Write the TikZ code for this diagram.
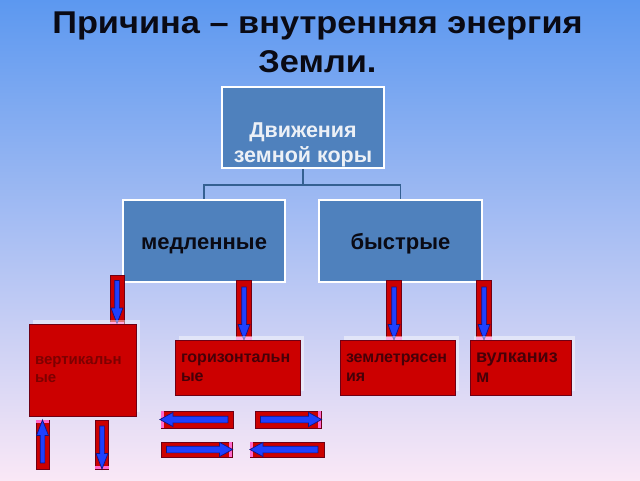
\documentclass[tikz,border=0pt]{standalone}
\usepackage{fontspec}
\setmainfont{Liberation Sans}
\usepackage{tikz}
\usetikzlibrary{positioning, shapes.arrows, shadows}

\definecolor{bgtop}{RGB}{92,152,240}
\definecolor{bgmid}{RGB}{172,204,242}
\definecolor{bgbot}{RGB}{250,232,246}
\definecolor{boxblue}{RGB}{79,129,189}
\definecolor{treeline}{RGB}{52,96,146}
\definecolor{boxred}{RGB}{204,0,0}
\definecolor{redline}{RGB}{110,0,20}
\definecolor{arrblue}{RGB}{30,64,255}
\definecolor{arrline}{RGB}{20,20,130}
\definecolor{tippink}{RGB}{255,105,205}
\definecolor{redtext}{RGB}{70,0,8}
\definecolor{titletext}{RGB}{10,10,20}
\definecolor{lighttext}{RGB}{236,240,246}

\tikzset{
    heading/.style={anchor=base, font=\bfseries\fontsize{31.5}{40}\selectfont, text=titletext},
    bluebox/.style={rectangle, draw=white, line width=2pt, fill=boxblue, inner sep=0pt, align=center,
        font=\bfseries\fontsize{22}{26}\selectfont, text=titletext, text height=16pt, text depth=0pt},
    redbox/.style={rectangle, draw=redline, line width=0.8pt, fill=boxred, inner xsep=6pt, align=left,
        font=\bfseries\fontsize{16}{19}\selectfont, text=redtext,
        drop shadow={shadow xshift=4pt, shadow yshift=4pt, fill=white, opacity=0.45}},
    redbar/.style={rectangle, draw=redline, line width=0.8pt, fill=boxred, inner sep=0pt},
    bluearr/.style={single arrow, draw=arrline, line width=0.7pt, fill=arrblue, inner xsep=0pt,
        inner ysep=2pt, single arrow head extend=3.6pt, single arrow tip angle=42},
    sidearr/.style={bluearr, inner ysep=3pt, single arrow head extend=3.8pt, single arrow tip angle=57},
    pinktip/.style={fill=tippink},
    tree/.style={draw=treeline, line width=1.6pt},
}

\begin{document}
\begin{tikzpicture}[x=1pt, y=-1pt]
    % background
    \fill[top color=bgtop, middle color=bgmid, bottom color=bgbot] (0,0) rectangle (640,480);
    \useasboundingbox (0,0) rectangle (640,480);

    % title
    \node[heading] (title1) at (317.5,33) {\scalebox{1.09}[1]{Причина – внутренняя энергия}};
    \node[heading] (title2) at (317.5,72) {\scalebox{1.09}[1]{Земли.}};

    % tree
    \node[bluebox, minimum width=162pt, minimum height=81pt] (dvizh) at (303,127.5) {};
    \node[align=center, font=\bfseries\fontsize{21.5}{25}\selectfont, text=lighttext] (dvizhtext) at ([yshift=-17pt]dvizh.center) {Движения\\земной коры};
    \node[bluebox, minimum width=162pt, minimum height=82pt] (medl) at (204,241) {медленные};
    \node[bluebox, minimum width=163pt, minimum height=82pt] (bystr) at (400.5,241) {быстрые};

    \draw[tree] (dvizh.south) -- ++(0,16) coordinate (fork);
    \draw[tree] (fork) -| (medl.north);
    \draw[tree] (fork) -| (bystr.north);

    % down bars
    \node[redbar, minimum width=14pt, minimum height=50pt] (bar1) at (117,300) {};
    \node[redbar, minimum width=15pt, minimum height=60pt] (bar2) at (244,310) {};
    \node[redbar, minimum width=15pt, minimum height=60pt] (bar3) at (394,310) {};
    \node[redbar, minimum width=15pt, minimum height=60pt] (bar4) at (484,310) {};
    \fill[pinktip] (bar1.south west) rectangle ([yshift=3pt]bar1.south east);
    \fill[pinktip] (bar2.south west) rectangle ([yshift=3.5pt]bar2.south east);
    \fill[pinktip] (bar3.south west) rectangle ([yshift=3.5pt]bar3.south east);
    \fill[pinktip] (bar4.south west) rectangle ([yshift=3.5pt]bar4.south east);
    \node[bluearr, minimum height=43pt, rotate=-90] (arr1) at ([yshift=1pt]bar1.center) {};
    \node[bluearr, minimum height=53pt, rotate=-90] (arr2) at ([yshift=-0.5pt]bar2.center) {};
    \node[bluearr, minimum height=53pt, rotate=-90] (arr3) at ([yshift=-0.5pt]bar3.center) {};
    \node[bluearr, minimum height=53pt, rotate=-90] (arr4) at ([yshift=-0.5pt]bar4.center) {};

    % red boxes
    \node[redbox, minimum height=92pt, text width=95pt, font=\bfseries\fontsize{15}{18}\selectfont, text={rgb,255:red,125;green,0;blue,0}] (vert) at (82.5,370) {вертикальн\\ые};
    \node[redbox, minimum height=55pt, text width=113pt] (goriz) at (237.5,367.5) {горизонтальн\\ые};
    \node[redbox, minimum height=55pt, text width=103pt] (zeml) at (397.5,367.5) {землетрясен\\ия};
    \node[redbox, minimum height=55pt, text width=89pt, font=\bfseries\fontsize{18}{20}\selectfont] (vulk) at (520.5,367.5) {вулканиз\\м};

    % small vertical bars
    \node[redbar, minimum width=13pt, minimum height=49pt] (up) at (42.5,444.5) {};
    \node[redbar, minimum width=13pt, minimum height=49pt] (down) at (102,444.5) {};
    \fill[pinktip] (up.north west) rectangle ([yshift=-3pt]up.north east);
    \fill[pinktip] (down.south west) rectangle ([yshift=3pt]down.south east);
    \node[bluearr, minimum height=43pt, rotate=90] (uparr) at (up) {};
    \node[bluearr, minimum height=43pt, rotate=-90] (downarr) at (down) {};

    % horizontal bars
    \node[redbar, minimum width=72pt, minimum height=17pt] (left1) at (197,419.5) {};
    \node[redbar, minimum width=66pt, minimum height=17pt] (right1) at (288,419.5) {};
    \node[redbar, minimum width=71pt, minimum height=15pt] (right2) at (196.5,449.5) {};
    \node[redbar, minimum width=74pt, minimum height=15pt] (left2) at (287,449.5) {};
    \fill[pinktip] (left1.north west) rectangle ([xshift=3pt]left1.south west);
    \fill[pinktip] (right1.north east) rectangle ([xshift=-3pt]right1.south east);
    \fill[pinktip] (right2.north east) rectangle ([xshift=-3pt]right2.south east);
    \fill[pinktip] (left2.north west) rectangle ([xshift=3pt]left2.south west);
    \node[sidearr, minimum height=68pt, rotate=180] (leftarr1) at (left1) {};
    \node[sidearr, minimum height=61pt] (rightarr1) at (right1) {};
    \node[sidearr, minimum height=66pt] (rightarr2) at (right2) {};
    \node[sidearr, minimum height=68pt, rotate=180] (leftarr2) at (left2) {};
\end{tikzpicture}
\end{document}
